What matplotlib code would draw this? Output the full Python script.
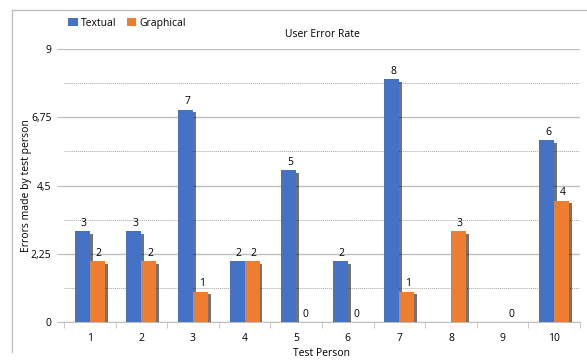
import numpy as np
import matplotlib.pyplot as plt
import matplotlib.patheffects as pe
from matplotlib.lines import Line2D
from matplotlib.patches import Patch
from matplotlib.ticker import FixedLocator, FuncFormatter

plt.rcParams['font.family'] = ['Open Sans', 'DejaVu Sans']

persons = ['1', '2', '3', '4', '5', '6', '7', '8', '9', '10']
textual = [3, 3, 7, 2, 5, 2, 8, np.nan, np.nan, 6]
graphical = [2, 2, 1, 2, 0, 0, 1, 3, 0, 4]

blue = '#4472c4'
orange = '#ed7d31'

fig = plt.figure(figsize=(5.87, 3.62), dpi=100)
ax = fig.add_axes([0.109, 0.1105, 0.879, 0.754])

x = np.arange(len(persons))
w = 0.29
shadow = [pe.SimplePatchShadow(offset=(2, -2), shadow_rgbFace='black', alpha=0.55), pe.Normal()]

b1 = ax.bar(x - w / 2, textual, w, color=blue, zorder=3)
b2 = ax.bar(x + w / 2, graphical, w, color=orange, zorder=3)
for b in list(b1) + list(b2):
    if b.get_height() > 0:
        b.set_path_effects(shadow)

for xs, vals in ((x - w / 2, textual), (x + w / 2, graphical)):
    for xi, v in zip(xs, vals):
        if np.isnan(v):
            continue
        ax.text(xi + 0.03, v + 0.08, '%d' % v, ha='center', va='bottom', fontsize=7.5, zorder=4)

ax.set_xlim(-0.5, len(persons) - 0.5)
ax.set_ylim(0, 9)
ax.set_xticks(x)
ax.set_xticklabels(persons)
ax.xaxis.set_minor_locator(FixedLocator(np.arange(-0.5, len(persons), 1)))
ax.tick_params(axis='x', which='major', length=0, pad=8, labelsize=7.5)
ax.tick_params(axis='x', which='minor', length=4, color='#bfbfbf')

ax.set_yticks([0, 2.25, 4.5, 6.75, 9])
ax.yaxis.set_major_formatter(FuncFormatter(lambda v, p: ('%g' % v).replace('.', ',')))
ax.yaxis.set_minor_locator(FixedLocator([1.125, 3.375, 5.625, 7.875]))
ax.tick_params(axis='y', which='major', length=5, color='#bfbfbf', labelsize=7.5, pad=4)
ax.tick_params(axis='y', which='minor', length=0)

ax.grid(axis='y', which='major', color='#bfbfbf', linewidth=1, zorder=0)
ax.grid(axis='y', which='minor', color='#a6a6a6', linewidth=0.7, linestyle=(0, (1, 1)), zorder=0)
ax.set_axisbelow(True)

for s in ('top', 'right', 'left'):
    ax.spines[s].set_visible(False)
ax.spines['bottom'].set_color('#bfbfbf')

ax.set_xlabel('Test Person', fontsize=7.5, labelpad=3)
ax.set_ylabel('Errors made by test person', fontsize=7.5)
ax.yaxis.set_label_coords(-0.062, 0.5)
ax.set_title('User Error Rate', fontsize=7.5, pad=9)

handles = [Patch(facecolor=blue, label='Textual'), Patch(facecolor=orange, label='Graphical')]
ax.legend(handles=handles, loc='lower left', bbox_to_anchor=(0.0, 1.06), ncol=2, frameon=False,
          fontsize=7.5, handlelength=0.9, handleheight=0.9, handletextpad=0.3, columnspacing=1.0,
          borderaxespad=0)

# outer chart border (left and top only visible)
fig.add_artist(Line2D([12 / 587, 12 / 587], [1 - 10 / 362, 1 - 352 / 362], color='#bfbfbf', lw=1))
fig.add_artist(Line2D([12 / 587, 1.0], [1 - 10 / 362, 1 - 10 / 362], color='#bfbfbf', lw=1))

fig.savefig('out.png', dpi=100)
